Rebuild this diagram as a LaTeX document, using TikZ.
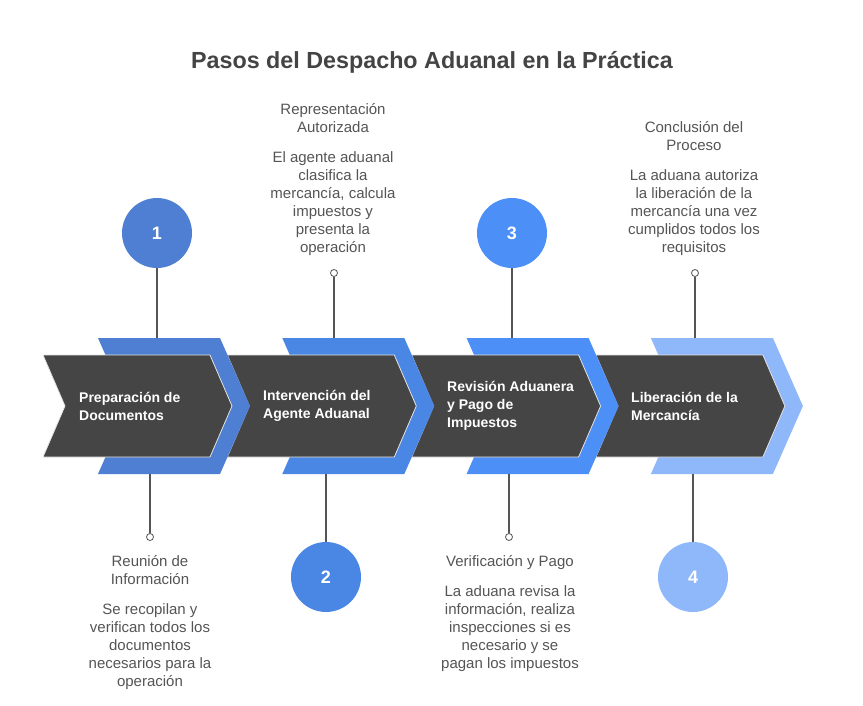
\documentclass[tikz,border=0pt]{standalone}
\usepackage{fontspec}
\setmainfont{Liberation Sans}
\usetikzlibrary{positioning}

\definecolor{chevgray}{HTML}{454545}
\definecolor{titlegray}{HTML}{444444}
\definecolor{txtgray}{HTML}{555555}
\definecolor{stepa}{HTML}{4E7FD2}
\definecolor{stepb}{HTML}{4A87E4}
\definecolor{stepc}{HTML}{4C8FF6}
\definecolor{stepd}{HTML}{8FB8FA}

\begin{document}
\begin{tikzpicture}[
  x=1pt, y=-1pt,
  chev/.style={fill=chevgray, draw=white!80!gray, line width=0.8pt, line join=round},
  num/.style={circle, minimum size=70pt, inner sep=0pt, text=white, font=\fontsize{18}{18}\selectfont\bfseries},
  dot/.style={circle, draw=txtgray, fill=white, minimum size=7pt, inner sep=0pt, line width=0.8pt},
  stem/.style={draw=txtgray, line width=1.1pt},
  steptext/.style={anchor=west, align=left, inner sep=0pt, text=white, font=\fontsize{14}{18}\selectfont\bfseries},
  desc/.style={anchor=north, align=center, inner sep=0pt, text=txtgray, font=\fontsize{15}{18}\selectfont},
  heading/.style={font=\fontsize{23.3}{26}\selectfont\bfseries, text=titlegray},
]

\fill[white] (0,0) rectangle (863,705);

% === Title ===
\node[heading] (title) at (432,62) {Pasos del Despacho Aduanal en la Práctica};

% === Chevrons (right to left, so each band sits under its own step) ===
\foreach \i/\col in {3/stepd, 2/stepc, 1/stepb, 0/stepa} {
  \begin{scope}[xshift=\i*184.3]
    \fill[\col] (98,338) -- (220,338) -- (250,406) -- (220,474) -- (98,474) -- (128,406) -- cycle;
    \path[chev] (43,355) -- (210,355) -- (232,406) -- (210,457) -- (43,457) -- (65,406) -- cycle;
  \end{scope}
}

% === Step labels ===
\node[steptext] (s1) at (79,406) {Preparación de\\Documentos};
\node[steptext] (s2) at (263,406) {Intervención del\\Agente Aduanal};
\node[steptext] (s3) at (447,406) {Revisión Aduanera\\y Pago de\\Impuestos};
\node[steptext] (s4) at (631,406) {Liberación de la\\Mercancía};

% === Numbered circles ===
\node[num, fill=stepa] (c1) at (157,233) {1};
\node[num, fill=stepb] (c2) at (326,577) {2};
\node[num, fill=stepc] (c3) at (512,233) {3};
\node[num, fill=stepd] (c4) at (693,577) {4};

\coordinate (e1) at (157,338);
\coordinate (e2) at (326,474);
\coordinate (e3) at (512,338);
\coordinate (e4) at (693,474);

\draw[stem] (c1) -- (e1);
\draw[stem] (c2) -- (e2);
\draw[stem] (c3) -- (e3);
\draw[stem] (c4) -- (e4);

% === Markers ===
\coordinate (f1) at (150,474);
\coordinate (f2) at (334,338);
\coordinate (f3) at (509,474);
\coordinate (f4) at (695,338);

\node[dot] (d1) at (150,537) {};
\node[dot] (d2) at (334,273) {};
\node[dot] (d3) at (509,537) {};
\node[dot] (d4) at (695,273) {};

\draw[stem] (f1) -- (d1);
\draw[stem] (f2) -- (d2);
\draw[stem] (f3) -- (d3);
\draw[stem] (f4) -- (d4);

% === Descriptions ===
\node[desc] (t2) at (333,102) {\strut Representación\\Autorizada\\[12pt]El agente aduanal\\clasifica la\\mercancía, calcula\\impuestos y\\presenta la\\operación};
\node[desc] (t4) at (694,120) {\strut Conclusión del\\Proceso\\[12pt]La aduana autoriza\\la liberación de la\\mercancía una vez\\cumplidos todos los\\requisitos};
\node[desc] (t1) at (150,554) {\strut Reunión de\\Información\\[12pt]Se recopilan y\\verifican todos los\\documentos\\necesarios para la\\operación};
\node[desc] (t3) at (510,554) {\strut Verificación y Pago\\[12pt]La aduana revisa la\\información, realiza\\inspecciones si es\\necesario y se\\pagan los impuestos};

\end{tikzpicture}
\end{document}
